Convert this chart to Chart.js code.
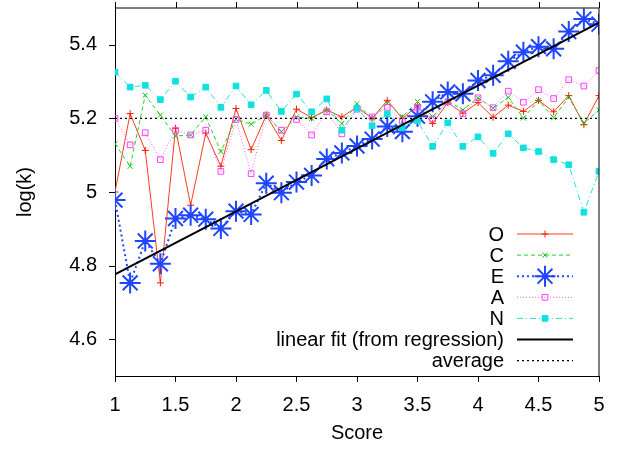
<!DOCTYPE html>
<html><head><meta charset="utf-8">
<script src="https://cdn.jsdelivr.net/npm/chart.js@4/dist/chart.umd.min.js"></script>
<style>html,body{margin:0;padding:0;background:#fff;}</style>
</head><body>
<canvas id="c" width="623" height="449" style="display:block;width:623px;height:449px"></canvas>
<script>
// ---- data ----
const scores = [1,1.125,1.25,1.375,1.5,1.625,1.75,1.875,2,2.125,2.25,2.375,2.5,2.625,2.75,2.875,3,3.125,3.25,3.375,3.5,3.625,3.75,3.875,4,4.125,4.25,4.375,4.5,4.625,4.75,4.875,5];
const oValues = [5.000,5.213,5.113,4.753,5.173,4.964,5.160,5.070,5.227,5.115,5.209,5.140,5.225,5.202,5.223,5.204,5.231,5.200,5.249,5.200,5.234,5.186,5.243,5.214,5.243,5.203,5.236,5.219,5.249,5.218,5.262,5.183,5.262];
const cValues = [5.131,5.070,5.263,5.209,5.152,5.155,5.204,5.110,5.198,5.184,5.209,5.164,5.204,5.200,5.223,5.186,5.240,5.200,5.241,5.204,5.246,5.205,5.247,5.223,5.256,5.228,5.257,5.201,5.249,5.202,5.257,5.187,5.223];
const eValues = [4.978,4.753,4.867,4.805,4.928,4.937,4.926,4.901,4.948,4.939,5.024,4.998,5.027,5.045,5.090,5.106,5.125,5.144,5.178,5.164,5.206,5.245,5.272,5.267,5.303,5.317,5.355,5.380,5.395,5.389,5.436,5.470,5.456];
const aValues = [5.200,5.128,5.161,5.088,5.168,5.155,5.168,5.056,5.197,5.050,5.209,5.168,5.197,5.155,5.218,5.158,5.225,5.204,5.230,5.193,5.230,5.198,5.245,5.213,5.256,5.229,5.274,5.244,5.278,5.254,5.305,5.288,5.330];
const nValues = [5.326,5.285,5.290,5.251,5.301,5.258,5.285,5.230,5.288,5.237,5.276,5.219,5.266,5.218,5.253,5.168,5.228,5.180,5.212,5.174,5.194,5.124,5.188,5.124,5.150,5.105,5.158,5.120,5.110,5.088,5.074,4.945,5.056];
const fitScores = [1, 5];
const fitValues = [4.776, 5.460];
const averageScores = [1, 5];
const averageValues = [5.2, 5.2];
const seriesLabels = ['O','C','E','A','N','linear fit (from regression)','average'];
const xTicks = [1,1.5,2,2.5,3,3.5,4,4.5,5];
const xTickLabels = ['1','1.5','2','2.5','3','3.5','4','4.5','5'];
const yTicks = [4.6,4.8,5.0,5.2,5.4];
const yTickLabels = ['4.6','4.8','5','5.2','5.4'];

const pts = (xs, ys) => xs.map((x, i) => ({x: x, y: ys[i]}));
const FONT = 'Liberation Sans, Arial, Helvetica, sans-serif';
const FS = 20;
const noPad = () => ({left: 0, top: 0, right: 0, bottom: 0});

const frame = {
  id: 'frame',
  afterDatasetsDraw(chart) {
    const {ctx, chartArea: a, scales} = chart;
    ctx.save();
    ctx.strokeStyle = '#000';
    ctx.lineWidth = 1;
    ctx.beginPath();
    ctx.moveTo(a.left, a.top); ctx.lineTo(a.right, a.top);
    ctx.moveTo(a.right, a.top); ctx.lineTo(a.right, a.bottom);
    xTicks.forEach(v => {
      const px = Math.round(scales.x.getPixelForValue(v)) + 0.5;
      ctx.moveTo(px, a.top); ctx.lineTo(px, a.top - 6);
    });
    yTicks.forEach(v => {
      const py = Math.round(scales.y.getPixelForValue(v)) + 0.5;
      ctx.moveTo(a.left, py); ctx.lineTo(a.left - 6, py);
    });
    ctx.stroke();
    // legend, gnuplot style: label right-aligned, sample to the right
    const textRight = 504, x0 = 517, x1 = 573, y0 = 234, dy = 21.1;
    ctx.font = FS + 'px ' + FONT;
    ctx.textAlign = 'right';
    ctx.textBaseline = 'middle';
    chart.data.datasets.forEach((ds, i) => {
      const y = y0 + i * dy;
      ctx.fillStyle = '#000';
      ctx.fillText(ds.label, textRight, y + 1);
      ctx.save();
      ctx.strokeStyle = ds.borderColor;
      ctx.lineWidth = ds.borderWidth;
      ctx.setLineDash(ds.borderDash || []);
      ctx.beginPath(); ctx.moveTo(x0, y); ctx.lineTo(x1, y); ctx.stroke();
      ctx.setLineDash([]);
      if (ds.pointRadius > 0) {
        ctx.strokeStyle = ds.pointBorderColor;
        ctx.fillStyle = ds.pointBackgroundColor;
        ctx.lineWidth = ds.pointBorderWidth;
        Chart.helpers.drawPoint(ctx, {pointStyle: ds.pointStyle, radius: ds.pointRadius, borderWidth: ds.pointBorderWidth, rotation: 0}, (x0 + x1) / 2, y);
      }
      ctx.restore();
    });
    ctx.restore();
  }
};

new Chart(document.getElementById('c'), {
  type: 'line',
  data: {
    datasets: [
      {label: seriesLabels[0], data: pts(scores, oValues), borderColor: '#ff3a20', borderWidth: 1, pointStyle: 'cross', pointRadius: 3.5, pointBorderColor: '#ff1a00', pointBackgroundColor: '#ff1a00', pointBorderWidth: 1, order: 7},
      {label: seriesLabels[1], data: pts(scores, cValues), borderColor: '#22d022', borderWidth: 1, borderDash: [4,3], pointStyle: 'crossRot', pointRadius: 3.5, pointBorderColor: '#10c010', pointBackgroundColor: '#10c010', pointBorderWidth: 1, order: 6},
      {label: seriesLabels[2], data: pts(scores, eValues), borderColor: '#1f45ff', borderWidth: 2, borderDash: [2,3], pointStyle: 'star', pointRadius: 10.5, pointBorderColor: '#1f45ff', pointBackgroundColor: '#1f45ff', pointBorderWidth: 2, order: 5},
      {label: seriesLabels[3], data: pts(scores, aValues), borderColor: '#ff5cff', borderWidth: 1, borderDash: [1,2], pointStyle: 'rect', pointRadius: 4, pointBorderColor: '#ff40ff', pointBackgroundColor: 'rgba(255,255,255,0)', pointBorderWidth: 1, order: 4},
      {label: seriesLabels[4], data: pts(scores, nValues), borderColor: '#22e0e0', borderWidth: 1, borderDash: [6,3,1,3], pointStyle: 'rect', pointRadius: 4, pointBorderColor: '#10e0e0', pointBackgroundColor: '#10e0e0', pointBorderWidth: 1, order: 3},
      {label: seriesLabels[5], data: pts(fitScores, fitValues), borderColor: '#000', borderWidth: 2, pointRadius: 0, order: 2},
      {label: seriesLabels[6], data: pts(averageScores, averageValues), borderColor: '#000', borderWidth: 1.2, borderDash: [2,3], pointRadius: 0, order: 1}
    ]
  },
  options: {
    responsive: false,
    animation: false,
    devicePixelRatio: 1,
    layout: {autoPadding: false, padding: {top: 8, right: 24, left: 0, bottom: 0}},
    plugins: {legend: {display: false}, tooltip: {enabled: false}},
    elements: {line: {tension: 0, fill: false}},
    scales: {
      x: {
        type: 'linear', min: 1, max: 5,
        afterBuildTicks: s => { s.ticks = xTicks.map(v => ({value: v})); },
        afterFit: s => { s.height = 73; s.getPadding = noPad; },
        ticks: {autoSkip: false, maxRotation: 0, padding: 11, color: '#000', font: {family: FONT, size: FS},
          callback: (v) => xTickLabels[xTicks.indexOf(v)] ?? ''},
        grid: {drawOnChartArea: false, tickLength: 6, color: '#000', lineWidth: 1},
        border: {display: true, color: '#000', width: 1},
        title: {display: true, text: 'Score', color: '#000', font: {family: FONT, size: FS}, padding: {top: 0, bottom: 4}}
      },
      y: {
        type: 'linear', min: 4.5, max: 5.5,
        afterBuildTicks: s => { s.ticks = yTicks.map(v => ({value: v})); },
        afterFit: s => { s.width = 115; s.getPadding = noPad; },
        ticks: {padding: 0, color: '#000', font: {family: FONT, size: FS, lineHeight: 0.1},
          callback: (v) => { const i = yTicks.findIndex(t => Math.abs(t - v) < 1e-9); return i >= 0 ? yTickLabels[i] : ''; }},
        grid: {drawOnChartArea: false, tickLength: 18, tickColor: 'rgba(0,0,0,0)', color: '#000', lineWidth: 1},
        border: {display: true, color: '#000', width: 1},
        title: {display: true, text: 'log(k)', color: '#000', font: {family: FONT, size: FS}, padding: {top: 13, bottom: 0}}
      }
    }
  },
  plugins: [frame]
});
</script>
</body></html>
